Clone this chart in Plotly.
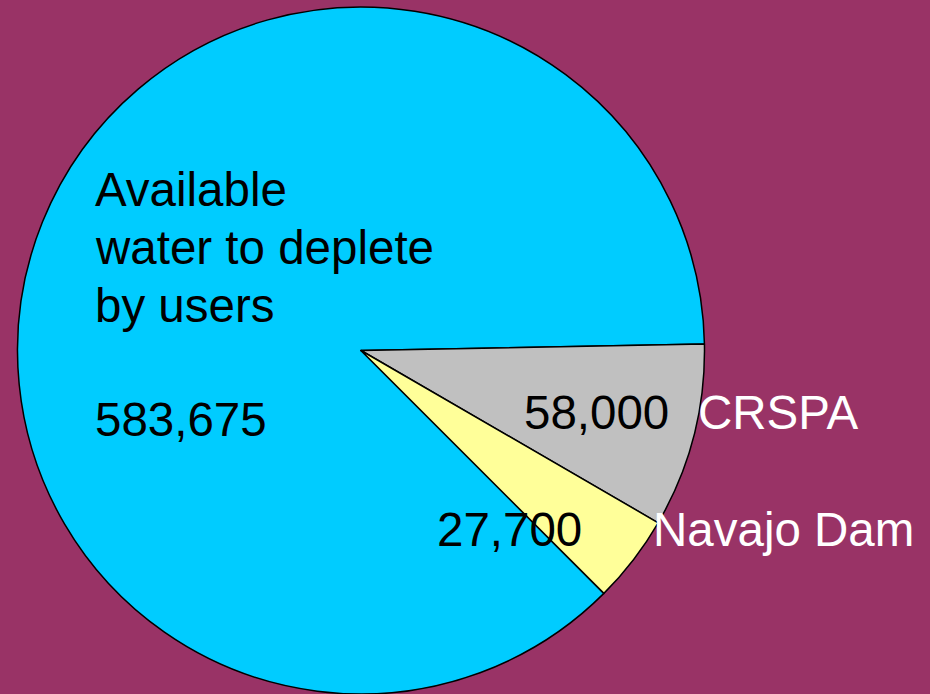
import plotly.graph_objects as go

labels = ["Available water to deplete by users", "CRSPA", "Navajo Dam"]
values = [583675, 58000, 27700]
colors = ["#00CCFF", "#C0C0C0", "#FFFF99"]
value_text = ["583,675", "58,000", "27,700"]

W, H = 930, 694
BG = "#993366"
FONT = "Liberation Sans, Arial, sans-serif"
FS = 47.5

fig = go.Figure(go.Pie(
    labels=labels,
    values=values,
    marker=dict(colors=colors, line=dict(color="black", width=1.5)),
    sort=False,
    direction="clockwise",
    rotation=135,
    textinfo="none",
    hoverinfo="label+value",
    showlegend=False,
    domain=dict(x=[17 / W, 705 / W], y=[0, 1 - 7 / H]),
))

def ann(text, x, y, color="black", xanchor="left"):
    fig.add_annotation(text=text, x=x / W, y=1 - y / H, xref="paper", yref="paper",
                       xanchor=xanchor, yanchor="middle", showarrow=False,
                       font=dict(family=FONT, size=FS, color=color))

ann("Available", 93, 189)
ann("water to deplete", 93, 247)
ann("by users", 93, 305)
ann(value_text[0], 93, 419)
ann(value_text[1], 522, 412)
ann("CRSPA", 696, 412, color="white")
ann(value_text[2], 435, 529)
ann("Navajo Dam", 651, 529, color="white")

fig.update_layout(
    width=W, height=H,
    margin=dict(l=0, r=0, t=0, b=0),
    paper_bgcolor=BG, plot_bgcolor=BG,
)
fig.write_html("out.html", config={"displayModeBar": False},
               post_script="document.body.style.margin='0';document.body.style.background='#993366';")
